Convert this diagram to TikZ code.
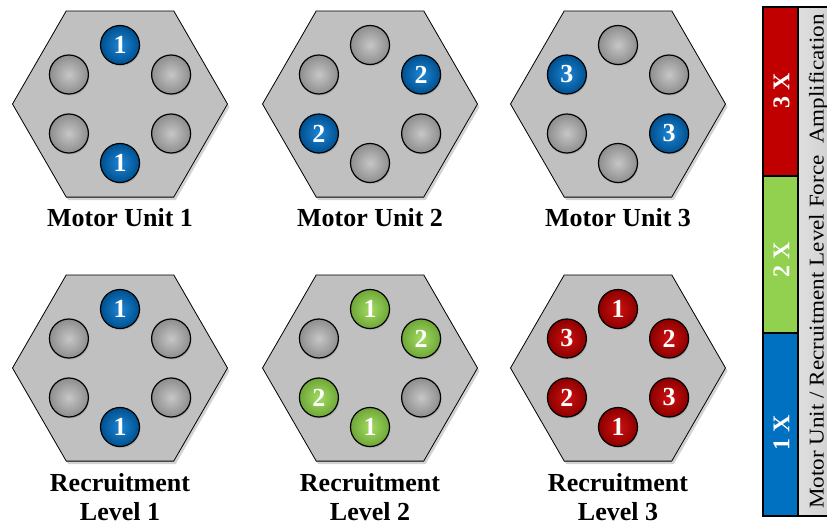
\documentclass[tikz,border=0pt]{standalone}
\usepackage{fontspec}
\setmainfont{Liberation Serif}
\usetikzlibrary{shapes.geometric,shadows,calc}
\definecolor{hexgray}{HTML}{C0C0C0}
\definecolor{barred}{HTML}{C00000}
\definecolor{bargreen}{HTML}{92D050}
\definecolor{barblue}{HTML}{0070C0}
\definecolor{bluein}{HTML}{1E86D6}
\definecolor{blueout}{HTML}{00508F}
\definecolor{greenin}{HTML}{A2DC62}
\definecolor{greenout}{HTML}{6FA738}
\definecolor{redin}{HTML}{D01010}
\definecolor{redout}{HTML}{8C0000}
\definecolor{grayin}{HTML}{C6C6C6}
\definecolor{grayout}{HTML}{8E8E8E}
\newcommand\ballat[5]{\node[#4] (#1#2) at ($(#1)+(#3:59)$) {#5};}
\begin{document}
\begin{tikzpicture}[x=1pt,y=-1pt,
  hexa/.style={regular polygon, regular polygon sides=6, minimum size=215pt,
    inner sep=0pt, draw=black, line width=0.8pt, fill=hexgray,
    drop shadow={shadow xshift=2pt, shadow yshift=-3pt, opacity=0.35}},
  ball/.style={circle, minimum size=39pt, inner sep=0pt, draw=black, line width=1.2pt,
    font=\fontsize{26}{26}\selectfont\bfseries, text=white,
    drop shadow={shadow xshift=1pt, shadow yshift=-1.5pt, opacity=0.3}},
  gb/.style={ball, inner color=grayin, outer color=grayout},
  bb/.style={ball, inner color=bluein, outer color=blueout},
  gr/.style={ball, inner color=greenin, outer color=greenout},
  rb/.style={ball, inner color=redin, outer color=redout},
  lab/.style={font=\fontsize{26}{29}\selectfont\bfseries, align=center},
  barlab/.style={rotate=90, text=white, inner sep=0pt, font=\fontsize{24}{24}\selectfont\bfseries},
  sep/.style={line width=1.2pt, draw=black}
]
\useasboundingbox (0,0) rectangle (827,525);

% hexagons
\node[hexa] (mu1) at (120,104) {};
\node[hexa] (mu2) at (370,104) {};
\node[hexa] (mu3) at (618,104) {};
\node[hexa] (rl1) at (120,368) {};
\node[hexa] (rl2) at (370,368) {};
\node[hexa] (rl3) at (618,368) {};

% Motor Unit 1
\ballat{mu1}{t}{-90}{bb}{1}
\ballat{mu1}{ur}{-30}{gb}{}
\ballat{mu1}{lr}{30}{gb}{}
\ballat{mu1}{b}{90}{bb}{1}
\ballat{mu1}{ll}{150}{gb}{}
\ballat{mu1}{ul}{210}{gb}{}
% Motor Unit 2
\ballat{mu2}{t}{-90}{gb}{}
\ballat{mu2}{ur}{-30}{bb}{2}
\ballat{mu2}{lr}{30}{gb}{}
\ballat{mu2}{b}{90}{gb}{}
\ballat{mu2}{ll}{150}{bb}{2}
\ballat{mu2}{ul}{210}{gb}{}
% Motor Unit 3
\ballat{mu3}{t}{-90}{gb}{}
\ballat{mu3}{ur}{-30}{gb}{}
\ballat{mu3}{lr}{30}{bb}{3}
\ballat{mu3}{b}{90}{gb}{}
\ballat{mu3}{ll}{150}{gb}{}
\ballat{mu3}{ul}{210}{bb}{3}
% Recruitment Level 1
\ballat{rl1}{t}{-90}{bb}{1}
\ballat{rl1}{ur}{-30}{gb}{}
\ballat{rl1}{lr}{30}{gb}{}
\ballat{rl1}{b}{90}{bb}{1}
\ballat{rl1}{ll}{150}{gb}{}
\ballat{rl1}{ul}{210}{gb}{}
% Recruitment Level 2
\ballat{rl2}{t}{-90}{gr}{1}
\ballat{rl2}{ur}{-30}{gr}{2}
\ballat{rl2}{lr}{30}{gb}{}
\ballat{rl2}{b}{90}{gr}{1}
\ballat{rl2}{ll}{150}{gr}{2}
\ballat{rl2}{ul}{210}{gb}{}
% Recruitment Level 3
\ballat{rl3}{t}{-90}{rb}{1}
\ballat{rl3}{ur}{-30}{rb}{2}
\ballat{rl3}{lr}{30}{rb}{3}
\ballat{rl3}{b}{90}{rb}{1}
\ballat{rl3}{ll}{150}{rb}{2}
\ballat{rl3}{ul}{210}{rb}{3}

% labels
\node[lab] (mu1l) at (120,218) {Motor Unit 1};
\node[lab] (mu2l) at (370,218) {Motor Unit 2};
\node[lab] (mu3l) at (618,218) {Motor Unit 3};
\node[lab] (rl1l) at (120,497) {Recruitment\\Level 1};
\node[lab] (rl2l) at (370,497) {Recruitment\\Level 2};
\node[lab] (rl3l) at (618,497) {Recruitment\\Level 3};

% amplification bar
\fill[barred] (763,7) rectangle (798,176);
\fill[bargreen] (763,176) rectangle (798,333);
\fill[barblue] (763,333) rectangle (798,516);
\shade[left color=gray!25, middle color=white, right color=gray!35] (798,7) rectangle (828,516);
\draw[sep] (763,176) -- (798,176);
\draw[sep] (763,333) -- (798,333);
\draw[sep] (798,7) -- (798,516);
\draw[sep] (763,7) rectangle (828,516);
\node[barlab] (x3) at (781.5,90.5) {3 X};
\node[barlab] (x2) at (781.5,260) {2 X};
\node[barlab] (x1) at (781.5,433) {1 X};
\node[rotate=90, inner sep=0pt, font=\fontsize{21}{21}\selectfont] (bartext) at (818.5,261.5)
  {\scalebox{1.1}[1]{Motor Unit / Recruitment Level Force~ Amplification}};
\end{tikzpicture}
\end{document}
